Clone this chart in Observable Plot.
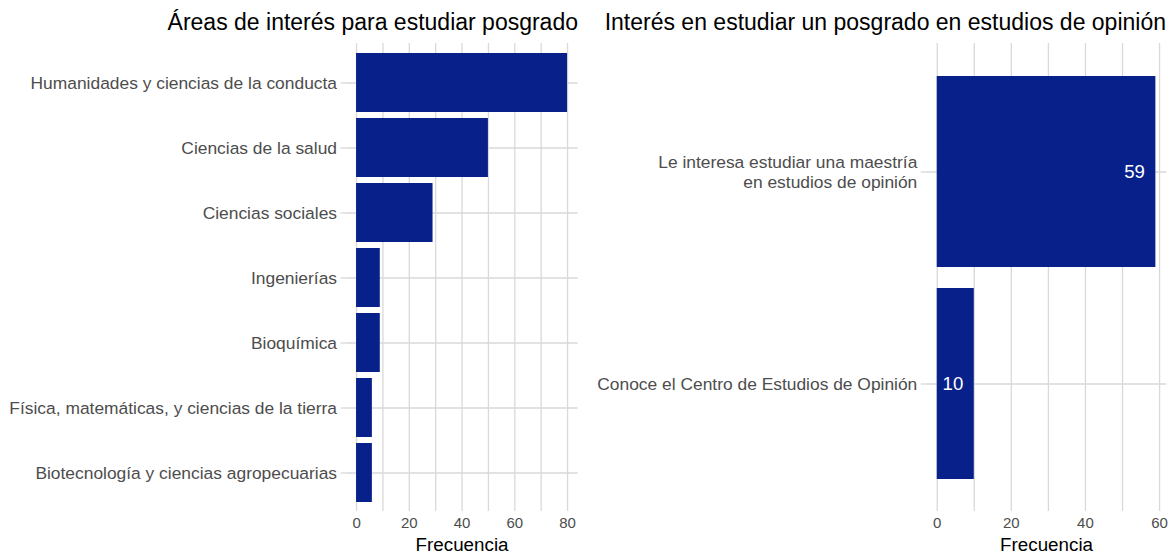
<!DOCTYPE html>
<html>
<head>
<meta charset="utf-8">
<script src="https://cdn.jsdelivr.net/npm/d3@7"></script>
<script src="https://cdn.jsdelivr.net/npm/@observablehq/plot@0.6"></script>
<style>
  html, body { margin: 0; padding: 0; background: #ffffff; }
  #wrap { position: relative; width: 1173px; height: 557px; font-family: "Liberation Sans", Arial, Helvetica, sans-serif; overflow: hidden; }
  .title { position: absolute; top: 11px; font-size: 23px; line-height: 23px; color: #000; white-space: nowrap; text-align: right; }
  .panel { position: absolute; top: 30px; }
</style>
</head>
<body>
<div id="wrap">
  <div class="title" id="t1" style="right: 595px;"></div>
  <div class="title" id="t2" style="right: 7px;"></div>
  <div class="panel" id="p1" style="left: 0px;"></div>
  <div class="panel" id="p2" style="left: 586px;"></div>
</div>
<script>
// ---- data ----
const leftTitle = "Áreas de interés para estudiar posgrado";
const rightTitle = "Interés en estudiar un posgrado en estudios de opinión";
const xLabel = "Frecuencia";

const leftCategories = [
  "Humanidades y ciencias de la conducta",
  "Ciencias de la salud",
  "Ciencias sociales",
  "Ingenierías",
  "Bioquímica",
  "Física, matemáticas, y ciencias de la tierra",
  "Biotecnología y ciencias agropecuarias"
];
const leftValues = [80, 50, 29, 9, 9, 6, 6];
const leftTicks = [0, 20, 40, 60, 80];
const leftGrid = [0, 10, 20, 30, 40, 50, 60, 70, 80];

const rightCategories = [
  "Le interesa estudiar una maestría\nen estudios de opinión",
  "Conoce el Centro de Estudios de Opinión"
];
const rightValues = [59, 10];
const rightTicks = [0, 20, 40, 60];
const rightGrid = [0, 10, 20, 30, 40, 50, 60];

// ---- styles ----
const barColor = "#08218a";
const gridColor = "#d9d9d9";
const labelColor = "#4d4d4d";
const font = "'Liberation Sans', Arial, Helvetica, sans-serif";

const leftData = leftCategories.map((c, i) => ({cat: c, value: leftValues[i]}));
const rightData = rightCategories.map((c, i) => ({cat: c, value: rightValues[i]}));

document.getElementById("t1").textContent = leftTitle;
document.getElementById("t2").textContent = rightTitle;

function panel(data, cats, grid, ticks, xDomain, opts) {
  const marks = [
    Plot.gridX(grid, {stroke: gridColor, strokeOpacity: 1, strokeWidth: 1.3}),
    Plot.gridY({stroke: gridColor, strokeOpacity: 1, strokeWidth: 1.3}),
    Plot.barX(data, {x: "value", y: "cat", fill: barColor}),
    Plot.axisX(ticks, {tickSize: 0, tickPadding: 6, fontSize: 15, fill: labelColor, label: null}),
    Plot.axisY({tickSize: 5, tickPadding: 4, stroke: gridColor, strokeWidth: 1.3, fill: labelColor, fontSize: 17.4, lineHeight: 1.15, label: null}),
    Plot.text([xLabel], {text: d => d, frameAnchor: "bottom", dy: 39, fontSize: 18.8, fill: "#000"})
  ];
  if (opts.labels) {
    marks.push(Plot.text(data, {x: "value", y: "cat", text: d => String(d.value), textAnchor: "end", dx: -11, fill: "white", fontSize: 18.6}));
  }
  return Plot.plot({
    width: opts.width,
    height: 527,
    marginLeft: opts.marginLeft,
    marginRight: opts.marginRight,
    marginTop: 13,
    marginBottom: 46,
    style: {fontFamily: font, background: "transparent", overflow: "visible"},
    x: {domain: xDomain},
    y: {domain: cats, paddingInner: 0.1, paddingOuter: 0.15},
    marks
  });
}

document.getElementById("p1").appendChild(
  panel(leftData, leftCategories, leftGrid, leftTicks, [-4, 84], {width: 586, marginLeft: 345.5, marginRight: 8.4, labels: false})
);
document.getElementById("p2").appendChild(
  panel(rightData, rightCategories, rightGrid, rightTicks, [-2.95, 61.95], {width: 587, marginLeft: 339.8, marginRight: 6.7, labels: true})
);
</script>
</body>
</html>
